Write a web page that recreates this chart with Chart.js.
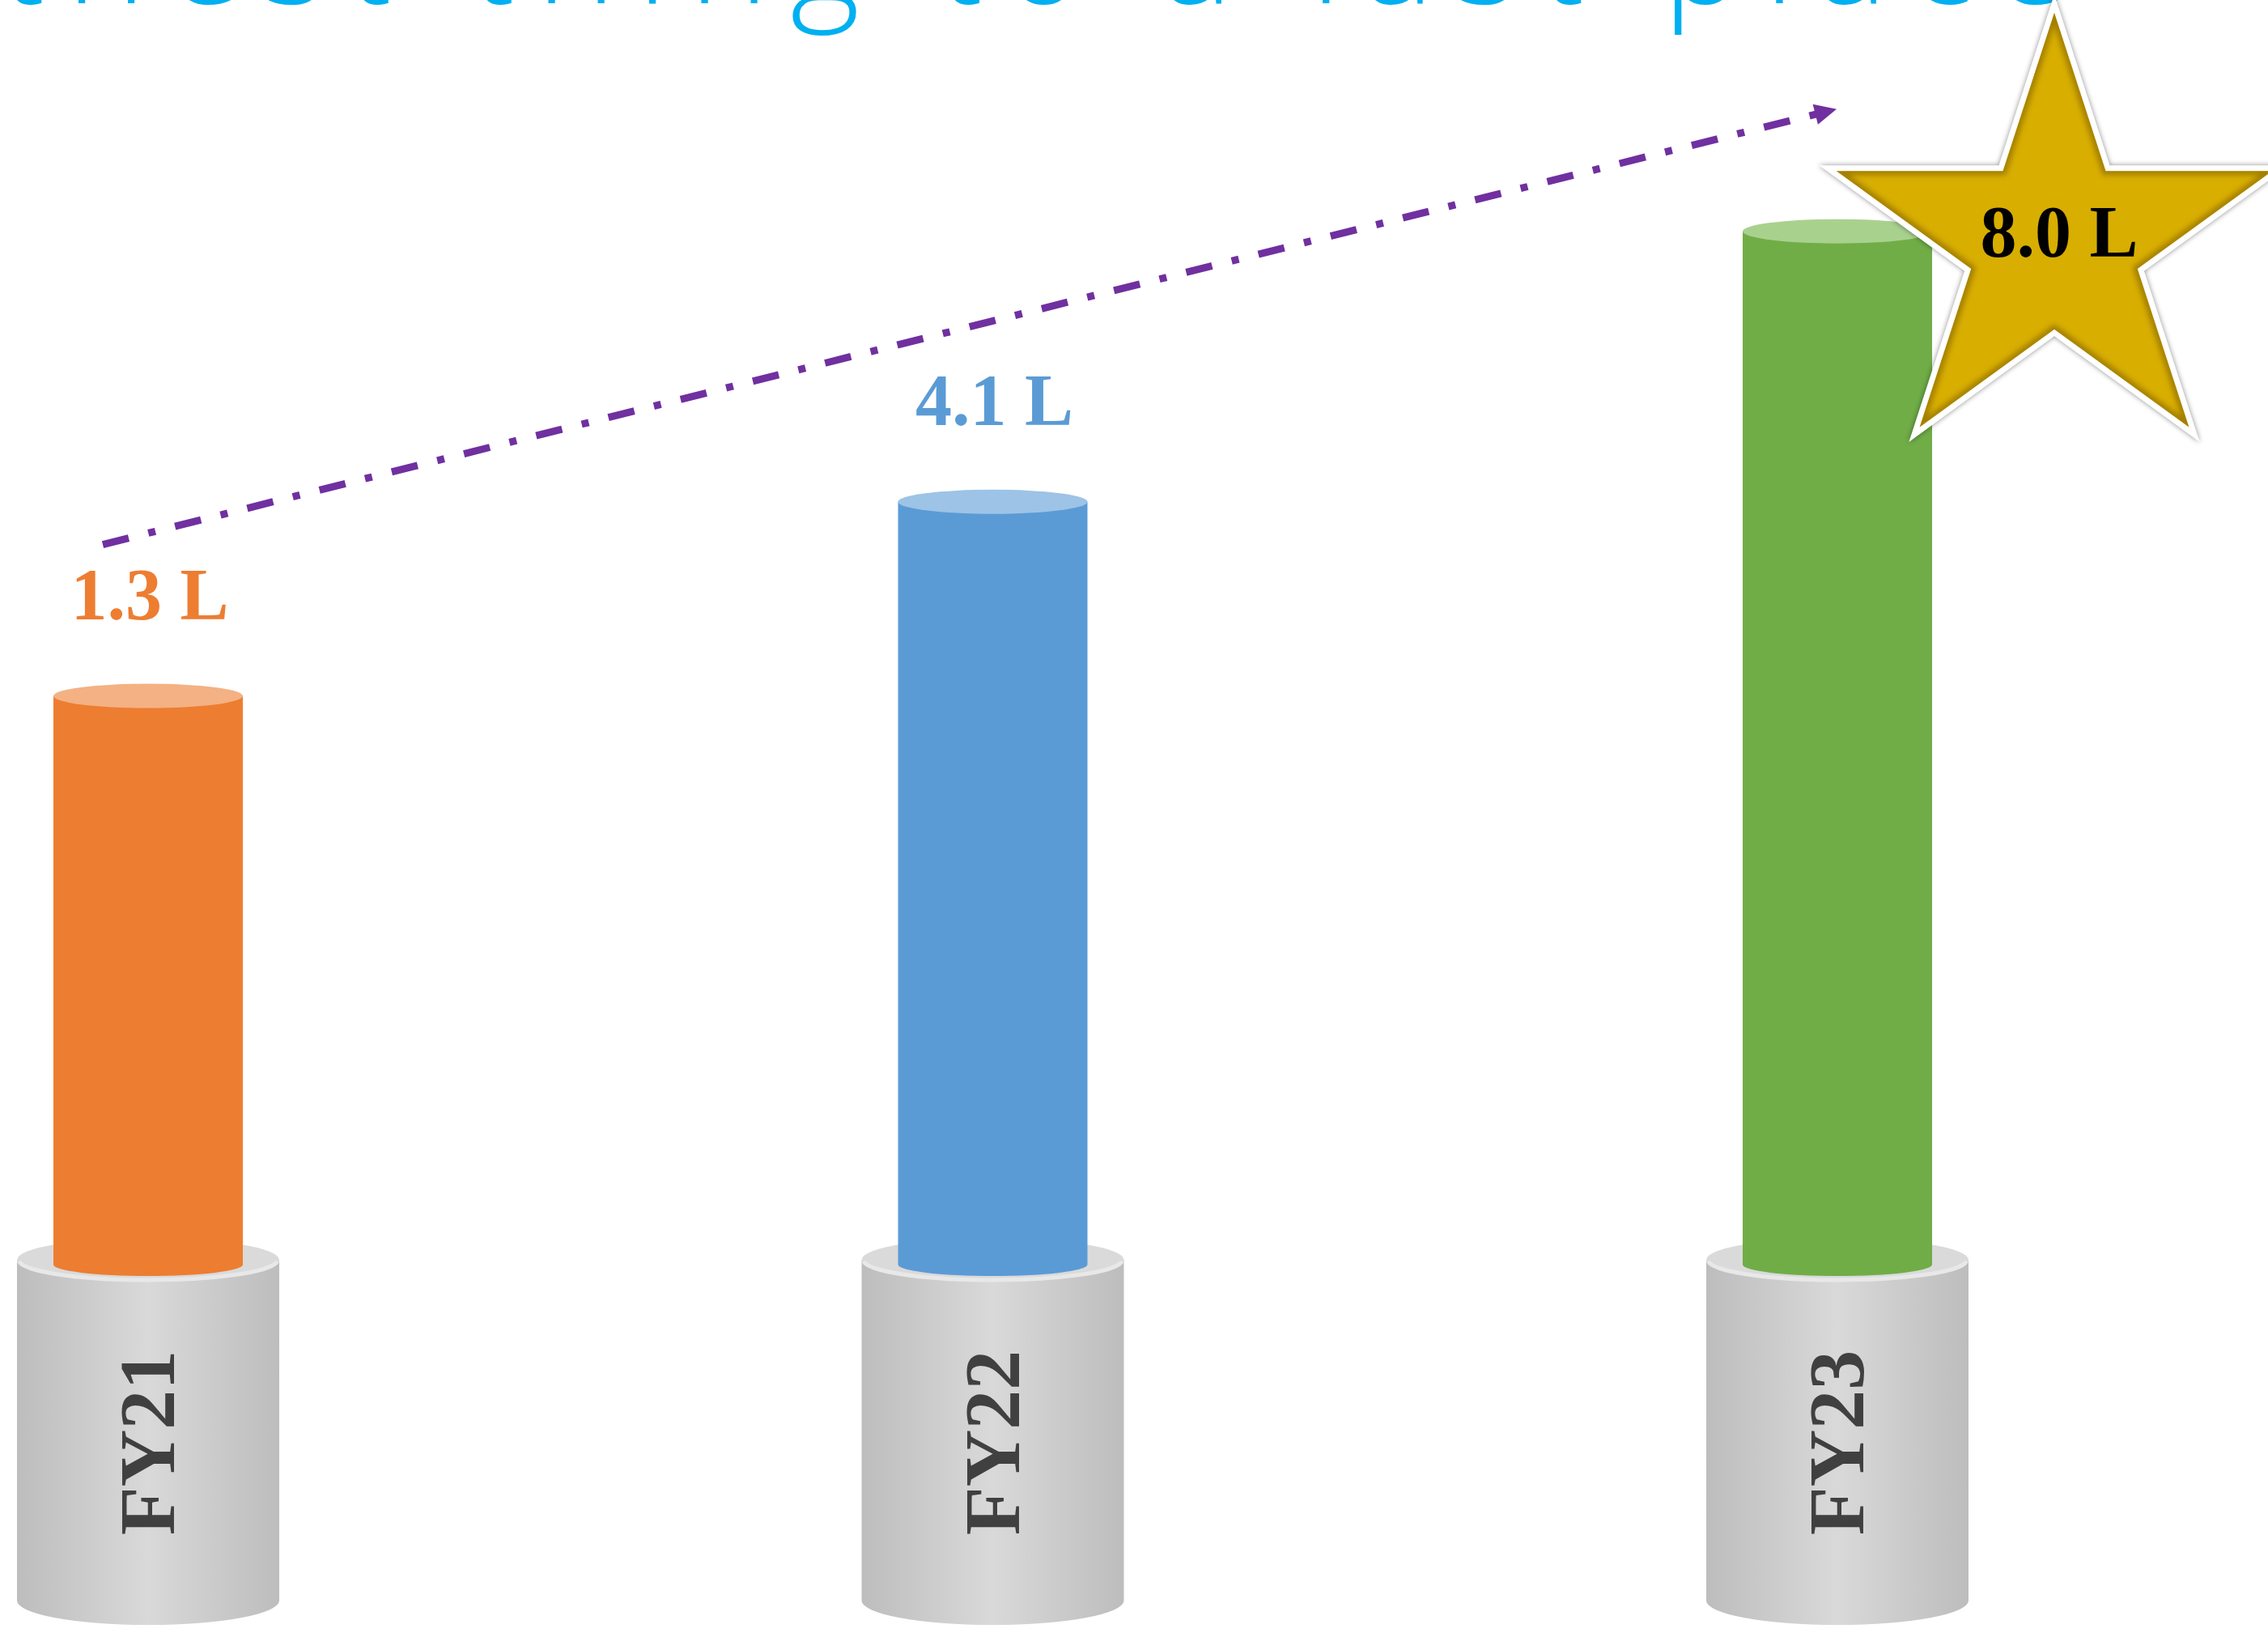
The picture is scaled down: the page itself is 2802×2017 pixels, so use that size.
<!DOCTYPE html>
<html>
<head>
<meta charset="utf-8">
<script src="https://cdn.jsdelivr.net/npm/chart.js@4.4.1/dist/chart.umd.min.js"></script>
<style>
html,body{margin:0;padding:0;background:#ffffff;overflow:hidden;}
#wrap{width:2802px;height:2017px;position:relative;background:#ffffff;}
canvas{display:block;}
</style>
</head>
<body>
<div id="wrap"><canvas id="c" width="2802" height="2017"></canvas></div>
<script>
// ---- data ----
const TITLE = 'Farthest thing to a last place';
const CATEGORIES = ['FY21', 'FY22', 'FY23'];
const VALUES = [1.3, 4.1, 8.0];
const VALUE_LABELS = ['1.3 L', '4.1 L', '8.0 L'];
const Y_MIN = -6.9;
const Y_MAX = 9;
// ---- styles ----
const BAR_COLORS = ['#ed7d31', '#5b9bd5', '#70ad47'];
const CAP_COLORS = ['#f4b183', '#9dc3e6', '#a9d18e'];
const LABEL_FONT = '"Liberation Serif", "DejaVu Serif", serif';
const TITLE_FONT = '"Open Sans", "Noto Sans", sans-serif';

function starPath(ctx, cx, cy, R, r) {
  ctx.beginPath();
  for (let k = 0; k < 10; k++) {
    const ang = -Math.PI / 2 + k * Math.PI / 5;
    const rad = (k % 2 === 0) ? R : r;
    const px = cx + rad * Math.cos(ang), py = cy + rad * Math.sin(ang);
    if (k === 0) ctx.moveTo(px, py); else ctx.lineTo(px, py);
  }
  ctx.closePath();
}

function drawPedestal(ctx, cx, base) {
  const w = 162, ty = base - 6, ry = 27, by = base + 415, ry2 = 30;
  const g = ctx.createLinearGradient(cx - w, 0, cx + w, 0);
  g.addColorStop(0, '#bdbdbd');
  g.addColorStop(0.5, '#d9d9d9');
  g.addColorStop(1, '#bdbdbd');
  ctx.save();
  ctx.beginPath();
  ctx.moveTo(cx - w, ty);
  ctx.lineTo(cx - w, by);
  ctx.ellipse(cx, by, w, ry2, 0, Math.PI, 0, true);
  ctx.lineTo(cx + w, ty);
  ctx.ellipse(cx, ty, w, ry, 0, 0, Math.PI, false);
  ctx.closePath();
  ctx.fillStyle = g;
  ctx.fill();
  ctx.beginPath();
  ctx.ellipse(cx, ty, w, ry, 0, 0, Math.PI * 2);
  ctx.fillStyle = '#dadada';
  ctx.fill();
  ctx.beginPath();
  ctx.ellipse(cx, ty, w - 2, ry - 2, 0, 0.08, Math.PI - 0.08, false);
  ctx.strokeStyle = '#e8e8e8';
  ctx.lineWidth = 5;
  ctx.stroke();
  ctx.restore();
}

function drawCylinder(ctx, x, top, bottom, hw, color, cap) {
  ctx.save();
  ctx.beginPath();
  ctx.moveTo(x - hw, top);
  ctx.lineTo(x - hw, bottom);
  ctx.ellipse(x, bottom, hw, 14, 0, Math.PI, 0, true);
  ctx.lineTo(x + hw, top);
  ctx.closePath();
  ctx.fillStyle = color;
  ctx.fill();
  ctx.beginPath();
  ctx.ellipse(x, top, hw, 15, 0, 0, Math.PI * 2);
  ctx.fillStyle = cap;
  ctx.fill();
  ctx.restore();
}

const deco = {
  id: 'deco',
  beforeDatasetsDraw(chart) {
    const ctx = chart.ctx;
    const meta = chart.getDatasetMeta(0);
    // title (cut off at the top edge)
    ctx.save();
    const size = 165;
    ctx.font = '300 ' + size + 'px ' + TITLE_FONT;
    const wG = ctx.measureText('Farthest thin').width;
    const wP = ctx.measureText('Farthest thing to a last ').width;
    const spacing = (1078 - (wP - wG)) / 12;
    ctx.letterSpacing = spacing.toFixed(2) + 'px';
    const wG2 = ctx.measureText('Farthest thin').width;
    const xStart = 983 - wG2 - 0.04 * size;
    ctx.fillStyle = '#00b0f0';
    ctx.textBaseline = 'alphabetic';
    ctx.textAlign = 'left';
    ctx.fillText(TITLE, xStart, 4);
    ctx.restore();
    // pedestals + category labels
    meta.data.forEach((el, i) => {
      drawPedestal(ctx, el.x, el.base);
      ctx.save();
      ctx.translate(el.x + 3, el.base + 220);
      ctx.rotate(-Math.PI / 2);
      ctx.font = 'bold 98px ' + LABEL_FONT;
      ctx.fillStyle = '#404040';
      ctx.textAlign = 'center';
      ctx.textBaseline = 'middle';
      ctx.fillText(CATEGORIES[i], 0, 4);
      ctx.restore();
    });
  },
  afterDatasetsDraw(chart) {
    const ctx = chart.ctx;
    const meta = chart.getDatasetMeta(0);
    const els = meta.data;
    let top = 0;
    VALUES.forEach((v, i) => { if (v > VALUES[top]) top = i; });
    els.forEach((el, i) => {
      drawCylinder(ctx, el.x, el.y, el.base, el.width / 2, BAR_COLORS[i], CAP_COLORS[i]);
    });
    // trend arrow
    const a = els[0], b = els[els.length - 1];
    const sx = a.x - 56, sy = a.y - 187;
    const tx = b.x - 1, ty = b.y - 151;
    const dx = tx - sx, dy = ty - sy, len = Math.hypot(dx, dy);
    const ux = dx / len, uy = dy / len;
    ctx.save();
    ctx.strokeStyle = '#7030a0';
    ctx.fillStyle = '#7030a0';
    ctx.lineWidth = 9;
    ctx.setLineDash([33, 25, 9, 25]);
    ctx.beginPath();
    ctx.moveTo(sx, sy);
    ctx.lineTo(tx - ux * 22, ty - uy * 22);
    ctx.stroke();
    ctx.setLineDash([]);
    const bx = tx - ux * 27, by = ty - uy * 27;
    ctx.beginPath();
    ctx.moveTo(tx, ty);
    ctx.lineTo(bx - uy * 13, by + ux * 13);
    ctx.lineTo(bx + uy * 13, by - ux * 13);
    ctx.closePath();
    ctx.fill();
    ctx.restore();
    // value labels
    els.forEach((el, i) => {
      ctx.save();
      ctx.font = 'bold 90px ' + LABEL_FONT;
      ctx.textAlign = 'center';
      ctx.textBaseline = 'alphabetic';
      if (i === top) {
        const cx = el.x + 268, cy = el.y + 13;
        const R = 283, r = 108;
        ctx.save();
        starPath(ctx, cx, cy, R, r);
        ctx.shadowColor = 'rgba(0,0,0,0.45)';
        ctx.shadowBlur = 6;
        ctx.lineJoin = 'miter';
        ctx.miterLimit = 10;
        ctx.lineWidth = 14;
        ctx.strokeStyle = '#ffffff';
        ctx.stroke();
        ctx.restore();
        starPath(ctx, cx, cy, R, r);
        ctx.fillStyle = '#d8ae00';
        ctx.fill();
        ctx.save();
        starPath(ctx, cx, cy, R, r);
        ctx.clip();
        ctx.filter = 'blur(3px)';
        ctx.lineWidth = 10;
        ctx.strokeStyle = 'rgba(120,90,0,0.55)';
        starPath(ctx, cx, cy, R, r);
        ctx.stroke();
        ctx.restore();
        ctx.fillStyle = '#000000';
        ctx.fillText(VALUE_LABELS[i], el.x + 274, el.y + 31);
      } else {
        ctx.fillStyle = BAR_COLORS[i];
        ctx.fillText(VALUE_LABELS[i], el.x + 2, el.y - 95);
      }
      ctx.restore();
    });
  }
};

new Chart(document.getElementById('c').getContext('2d'), {
  type: 'bar',
  data: {
    labels: CATEGORIES,
    datasets: [{
      data: VALUES,
      base: Y_MIN,
      backgroundColor: 'rgba(0,0,0,0)',
      borderWidth: 0,
      barThickness: 234
    }]
  },
  options: {
    responsive: false,
    animation: false,
    devicePixelRatio: 1,
    layout: { padding: { left: 183, right: 532, top: 200, bottom: 455 } },
    plugins: { legend: { display: false }, title: { display: false }, tooltip: { enabled: false } },
    scales: {
      x: { display: false, offset: false, grid: { offset: false } },
      y: { display: false, min: Y_MIN, max: Y_MAX }
    }
  },
  plugins: [deco]
});
</script>
</body>
</html>
